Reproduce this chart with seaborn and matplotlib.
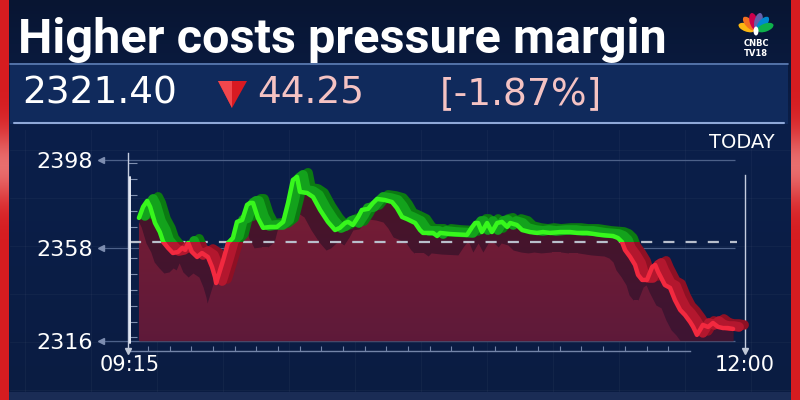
import numpy as np
import pandas as pd
import matplotlib
matplotlib.use("Agg")
import matplotlib.pyplot as plt
import matplotlib.transforms as mtrans
from matplotlib.patches import Rectangle, Polygon, Ellipse
import seaborn as sns

# ---------------- data ----------------
title = "Higher costs pressure margin"
last_price = "2321.40"
change_abs = "44.25"
change_pct = "[-1.87%]"
period_label = "TODAY"

# minutes after 09:15
minutes_after_open = [2.4, 3.5, 4.6, 5.4, 6.7, 8.0, 8.9, 10.2, 11.5, 12.9,
                      14.0, 14.8, 15.6, 16.6, 18.0, 19.3, 20.9, 22.0, 22.8, 23.1,
                      23.6, 25.0, 26.3, 27.6, 28.7, 30.1, 31.4, 32.2, 33.0, 34.3,
                      35.7, 37.6, 39.4, 41.1, 42.4, 43.7, 44.8, 45.6, 47.5, 49.1,
                      51.0, 53.1, 55.0, 56.3, 57.7, 58.5, 59.8, 61.2, 62.2, 63.9,
                      65.2, 66.3, 68.4, 70.3, 71.6, 73.0, 74.3, 76.5, 77.8, 78.6,
                      81.3, 82.4, 83.2, 85.9, 90.4, 91.8, 92.6, 93.4, 94.4, 95.8,
                      97.1, 98.5, 99.8, 101.2, 102.0, 103.8, 105.2, 107.3, 109.2, 110.8,
                      112.7, 115.4, 118.1, 119.9, 122.6, 126.1, 129.6, 130.9, 132.0, 132.8,
                      134.2, 135.5, 136.3, 137.4, 138.7, 140.1, 140.9, 141.7, 143.5, 144.9,
                      146.2, 147.6, 148.9, 150.3, 151.1, 152.1, 152.9, 153.7, 155.1, 156.4,
                      157.8, 159.1, 160.4, 161.8]
prices = [2371.7, 2376.7, 2379.4, 2376.7, 2369.4, 2365.3, 2360.8, 2358.1, 2355.8, 2356.3,
          2358.1, 2357.2, 2360.4, 2356.3, 2354.0, 2355.8, 2354.0, 2349.5, 2344.9, 2342.2,
          2344.9, 2352.6, 2360.4, 2362.6, 2369.9, 2370.8, 2377.6, 2378.5, 2378.5, 2371.7,
          2367.2, 2367.6, 2367.6, 2369.9, 2378.5, 2388.9, 2390.3, 2383.5, 2383.0, 2381.2,
          2375.3, 2369.9, 2366.2, 2367.2, 2369.4, 2369.9, 2368.5, 2372.1, 2375.3, 2375.8,
          2378.5, 2380.3, 2379.8, 2378.9, 2376.2, 2372.1, 2371.2, 2369.4, 2366.2, 2364.9,
          2364.9, 2363.5, 2364.9, 2364.4, 2364.0, 2367.6, 2369.4, 2369.4, 2365.3, 2369.4,
          2365.3, 2369.4, 2369.9, 2367.6, 2369.4, 2368.5, 2366.2, 2365.3, 2364.9, 2365.3,
          2364.9, 2365.3, 2365.3, 2364.9, 2364.9, 2364.0, 2363.5, 2362.6, 2360.8, 2357.2,
          2354.0, 2350.4, 2345.9, 2343.6, 2343.6, 2349.5, 2350.4, 2347.2, 2341.3, 2340.0,
          2334.5, 2330.0, 2327.7, 2324.5, 2322.3, 2318.7, 2320.9, 2323.2, 2322.3, 2324.1,
          2322.3, 2321.8, 2321.8, 2321.4]
prev_close = 2360.8
y_ticks = [2316, 2358, 2398]
x_tick_pos = [0, 165]
x_tick_labels = ["09:15", "12:00"]

df = pd.DataFrame({"minute": minutes_after_open, "price": prices})

# ---------------- style ----------------
sns.set_theme(style="dark")
plt.rcParams['font.family'] = ['DejaVu Sans']

fig = plt.figure(figsize=(8, 4), dpi=100)

# background layer in pixel coordinates
bg = fig.add_axes([0, 0, 1, 1], zorder=0)
ys = np.linspace(0, 1, 400)[:, None]
top = np.array([8, 21, 50]) / 255
mid = np.array([11, 31, 74]) / 255
bot = np.array([10, 28, 66]) / 255
col = np.where(ys < 0.33, top + (mid - top) * (ys / 0.33), mid + (bot - mid) * ((ys - 0.33) / 0.67))
bg.imshow(np.repeat(col[:, None, :], 2, axis=1), extent=[0, 800, 400, 0], aspect='auto', zorder=0)
bg.set_xlim(0, 800)
bg.set_ylim(400, 0)
bg.axis('off')

# faint background grid
for gx in np.arange(25, 800, 66):
    bg.plot([gx, gx], [130, 392], color='white', alpha=0.035, lw=0.8, zorder=1)
for gy in np.arange(150, 392, 48):
    bg.plot([10, 790], [gy, gy], color='white', alpha=0.03, lw=0.8, zorder=1)
bg.add_patch(Rectangle((0, 392), 800, 8, facecolor='#1a2c55', edgecolor='none', zorder=1))

# red side bars with glossy band
bar = np.zeros((400, 1, 3))
red = np.array([214, 28, 32]) / 255
pink = np.array([232, 110, 110]) / 255
w = np.exp(-((np.arange(400) - 165) / 35.0) ** 2)[:, None]
bar[:, 0, :] = red * (1 - w) + pink * w
for x0 in (0, 791):
    bg.imshow(bar, extent=[x0, x0 + 9, 400, 0], aspect='auto', zorder=2)
bg.set_xlim(0, 800)
bg.set_ylim(400, 0)

# title
bg.text(18, 53, title, family='Roboto', fontweight='bold', fontsize=35,
        color='white', va='baseline', zorder=3)

# logo
cols = ['#fcb711', '#f37021', '#cc004c', '#6460aa', '#0089d0', '#0db14b']
for i, c in enumerate(cols):
    th = np.deg2rad(160 - i * 28)
    cx, cy = 756 + 10 * np.cos(th), 31 - 10 * np.sin(th)
    bg.add_patch(Ellipse((cx, cy), 17, 8, angle=-np.rad2deg(th), facecolor=c,
                         edgecolor='none', zorder=3))
bg.add_patch(Ellipse((756, 31), 5, 9, facecolor='white', edgecolor='none', zorder=4))
bg.text(756, 43, "CNBC", ha='center', va='center', fontsize=6, fontweight='bold',
        color='white', zorder=3)
bg.text(756, 53, "TV18", ha='center', va='center', fontsize=6, fontweight='bold',
        color='white', zorder=3)

# price box
bg.add_patch(Rectangle((10, 63), 778, 61, facecolor='#102a5c', edgecolor='none', zorder=2))
bg.plot([10, 788], [63.5, 63.5], color='#5f7fb5', lw=1.2, zorder=3)
bg.plot([14, 784], [123, 123], color='#8fa8d8', lw=1.5, zorder=3)
bg.text(22, 104, last_price, fontsize=27, color='white', va='baseline', zorder=3)
bg.add_patch(Polygon([(218, 81), (247, 81), (232, 108)], closed=True,
                     facecolor='#d81a22', edgecolor='none', zorder=3))
bg.add_patch(Polygon([(218, 81), (232, 81), (232, 108)], closed=True,
                     facecolor='#f0474d', edgecolor='none', zorder=3))
bg.text(257, 104, change_abs, fontsize=27, color='#f5c3c3', va='baseline', zorder=3)
bg.text(440, 104, change_pct, fontsize=27, color='#f5c3c3', va='baseline', zorder=3)
bg.text(775, 148, period_label, fontsize=14, color='white', ha='right', va='baseline', zorder=3)

# ---------------- chart axes ----------------
ax = fig.add_axes([128 / 800, 49 / 400, 617 / 800, 211 / 400], zorder=2)
ax.patch.set_alpha(0)
ymin_v, ymax_v = 2311.4, 2407.0
xmin_v, xmax_v = -0.54, 165
base = y_ticks[0]

# reference gridlines
ax.hlines(y_ticks, -6.98, 162.3, colors='#4d6189', lw=0.9, zorder=1, clip_on=False)
ax.plot([-7.8] * len(y_ticks), y_ticks, marker='<', ls='none', color='#7d8db0', ms=4, clip_on=False)

# area: dark band under line + lighter body
main = ax.fill_between(df["minute"], df["price"], base, color='#4a1428', lw=0, zorder=2)
clip_path = main.get_paths()[0]
light = ax.fill_between(df["minute"], df["price"], base, color='#7b1d33', lw=0, zorder=3)
light.set_transform(mtrans.offset_copy(ax.transData, fig=fig, x=-9, y=-20, units='dots'))
light.set_clip_path(clip_path, ax.transData)

grad = np.zeros((100, 1, 4))
grad[..., 0] = 0.16
grad[..., 1] = 0.08
grad[..., 2] = 0.28
grad[:, 0, 3] = np.linspace(0, 0.35, 100)
im = ax.imshow(grad, extent=[df["minute"].min(), df["minute"].max(), base, df["price"].max()],
               aspect='auto', zorder=3.5, origin='upper')
im.set_clip_path(clip_path, ax.transData)

# previous close
ax.hlines(prev_close, 0, 162.9, colors='#b9bfcc', linestyles=(0, (5, 5)), lw=1.6, zorder=4.5)

green_rect = Rectangle((-20, prev_close), 220, 200, transform=ax.transData)
red_rect = Rectangle((-20, prev_close - 200), 220, 200, transform=ax.transData)

# ribbon (3D back edge)
for dx, dy, lw_r, shade in [(11, 4, 7, 0), (6, 2, 7, 1)]:
    off_r = mtrans.offset_copy(ax.transData, fig=fig, x=dx, y=dy, units='dots')
    pair = [('#0b7a12', green_rect), ('#8e1024', red_rect)] if shade == 0 else \
           [('#13a21c', green_rect), ('#b3172e', red_rect)]
    for c, rect in pair:
        ln, = ax.plot(df["minute"], df["price"], color=c, lw=lw_r, transform=off_r, zorder=5 + shade * 0.5,
                      solid_joinstyle='round', solid_capstyle='round')
        ln.set_clip_path(rect)

# front line
for c, rect in [('#37f71c', green_rect), ('#f2293f', red_rect)]:
    sns.lineplot(data=df, x="minute", y="price", color=c, linewidth=3.2, ax=ax,
                 zorder=7, estimator=None)
    ax.lines[-1].set_clip_path(rect)
    ax.lines[-1].set_solid_joinstyle('round')

ax.set_xlim(xmin_v, xmax_v)
ax.set_ylim(ymin_v, ymax_v)
ax.set_xlabel("")
ax.set_ylabel("")
ax.grid(False)

ax.spines['top'].set_visible(False)
for s in ('left', 'right'):
    ax.spines[s].set_visible(True)
    ax.spines[s].set_color('#c5cde0')
    ax.spines[s].set_linewidth(1.0)
ax.spines['left'].set_bounds(ymin_v, 2401.2)
ax.spines['right'].set_bounds(ymin_v, 2391.2)
ax.spines['bottom'].set_visible(True)
ax.spines['bottom'].set_color('#7384a8')
ax.spines['bottom'].set_linewidth(1.0)
ax.spines['bottom'].set_bounds(-0.54, 150.3)
ax.axvline(-0.13, ymin=0.038, ymax=0.825, color='#e6ebf5', lw=1.4, zorder=6)

ax.set_yticks(y_ticks, labels=[str(v) for v in y_ticks])
ax.set_yticks(2396.5 - 7.18 * np.arange(12), minor=True)
ax.tick_params(axis='y', which='major', length=0, pad=25, labelsize=16, labelcolor='white')
ax.tick_params(axis='y', which='minor', direction='in', length=6.5, width=0.8,
               color='#8090b0', left=True)
ax.set_xticks(x_tick_pos, labels=x_tick_labels)
ax.set_xticks(4.83 + 5.815 * np.arange(25), minor=True)
ax.tick_params(axis='x', which='major', length=0, pad=3, labelsize=15, labelcolor='white')
ax.tick_params(axis='x', which='minor', direction='in', length=3.6, width=0.8,
               color='#7384a8', bottom=True)
ax.plot([xmin_v, xmax_v], [ymin_v, ymin_v], marker='v', ls='none', color='#c0c8d8',
        ms=4, clip_on=False, zorder=8)

fig.savefig("out.png", dpi=100)
